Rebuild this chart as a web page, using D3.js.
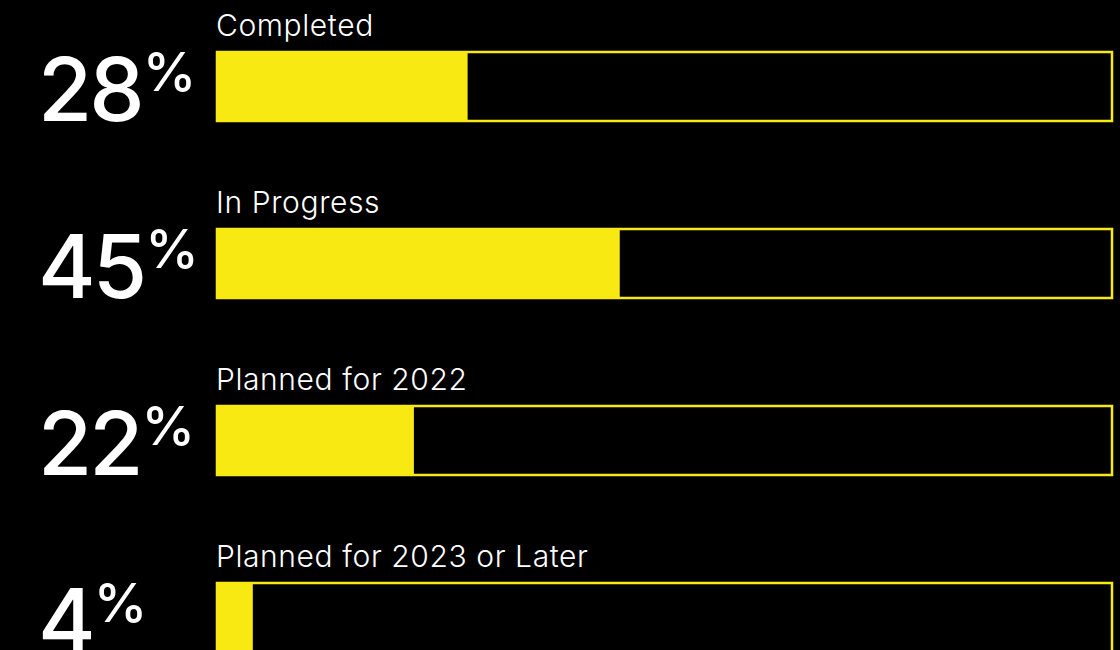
<!DOCTYPE html>
<html>
<head>
<meta charset="utf-8">
<script src="https://cdn.jsdelivr.net/npm/d3@7"></script>
<style>
  html, body { margin: 0; padding: 0; background: #000; }
  svg { display: block; }
</style>
</head>
<body>
<script>
var width = 1120,
    height = 650;

// data
var categories = ["Completed", "In Progress", "Planned for 2022", "Planned for 2023 or Later"];
var values = [28, 45, 22, 4];

var yellow = "#f7e911";

var svg = d3.select("body").append("svg")
    .attr("width", width)
    .attr("height", height)
    .style("background", "#000");

var barLeft = 217,
    barRight = 1112;

var x = d3.scaleLinear().domain([0, 100]).range([barLeft, barRight]);

// step of 177px, bar height 69px
var y = d3.scaleBand()
    .domain(categories)
    .range([52, 652])
    .paddingInner(0.6102)
    .paddingOuter(0);

var rows = svg.selectAll("g.row")
    .data(categories.map(function (c, i) { return { label: c, value: values[i] }; }))
    .enter()
    .append("g")
    .attr("class", "row");

// filled part
rows.append("rect")
    .attr("x", x(0))
    .attr("y", function (d) { return y(d.label); })
    .attr("width", function (d) { return x(d.value) - x(0); })
    .attr("height", y.bandwidth())
    .attr("fill", yellow);

// outline box
rows.append("rect")
    .attr("x", x(0))
    .attr("y", function (d) { return y(d.label); })
    .attr("width", x(100) - x(0))
    .attr("height", y.bandwidth())
    .attr("fill", "none")
    .attr("stroke", yellow)
    .attr("stroke-width", 2.5);

// category labels
rows.append("text")
    .attr("x", barLeft - 1)
    .attr("y", function (d) { return y(d.label) - 16; })
    .text(function (d) { return d.label; })
    .style("fill", "#fff")
    .style("font-family", "Inter, 'Noto Sans', sans-serif")
    .style("font-weight", 300)
    .style("font-size", "30px")
    .style("letter-spacing", "0.6px");

// big percentage numbers
var num = rows.append("text")
    .attr("x", 38)
    .attr("y", function (d) { return y(d.label) + y.bandwidth(); })
    .style("fill", "#fff")
    .style("font-family", "Inter, 'Noto Sans', sans-serif")
    .style("font-weight", 500)
    .style("letter-spacing", "-3px");

num.append("tspan")
    .style("font-size", "88px")
    .text(function (d) { return d.value; });

num.append("tspan")
    .attr("dy", -30)
    .attr("dx", 1)
    .style("font-size", "54px")
    .style("letter-spacing", "0px")
    .text("%");
</script>
</body>
</html>
